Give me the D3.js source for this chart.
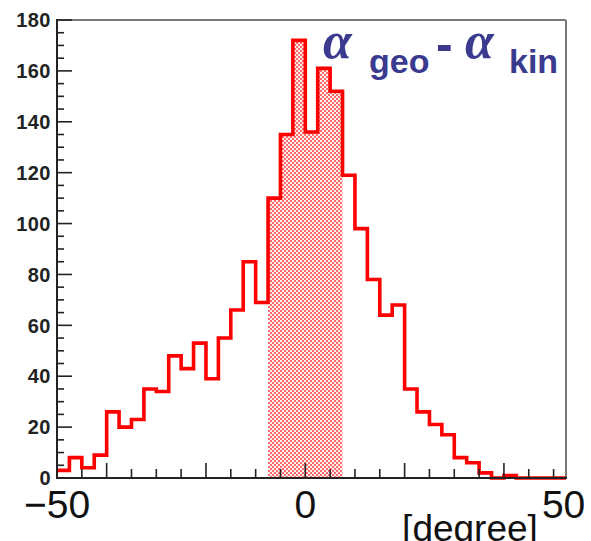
<!DOCTYPE html>
<html>
<head>
<meta charset="utf-8">
<script src="https://cdn.jsdelivr.net/npm/d3@7"></script>
<style>
  html, body { margin: 0; padding: 0; background: #fff; }
  svg { display: block; }
</style>
</head>
<body>
<svg id="chart" width="591" height="541"></svg>
<script>
// Histogram of alpha_geo - alpha_kin, 2.5 degree bins from -50 to 52.5
const binStart = -50;
const binWidth = 2.5;
const counts = [
  3, 8, 4, 9, 26, 20, 23, 35, 34, 48,
  43, 53, 39, 55, 66, 85, 69, 110, 135, 172,
  136, 161, 152, 119, 98, 78, 64, 68, 35, 26,
  21, 17, 8, 6, 2, 0, 1, 0, 0, 0, 0
];
// Selected window, drawn with a hatched fill
const selectedRange = [-7.5, 7.5];

const xTickLabels = [-50, 0, 50];
const xMinorTicks = [-45, -40, -35, -30, -25, -20, -15, -10, -5, 0, 5, 10, 15, 20, 25, 30, 35, 40, 45, 50];
const xMajorTicks = [-40, -20, 0, 20, 40];
const yTickLabels = [0, 20, 40, 60, 80, 100, 120, 140, 160, 180];
const yMinorTicks = d3.range(0, 181, 5);

(function () {
const svg = d3.select("#chart");
const mLeft = 57, mRight = 566, mTop = 20, mBottom = 478;

const x = d3.scaleLinear().domain([-50, 52.5]).range([mLeft, mRight]);
const y = d3.scaleLinear().domain([0, 180]).range([mBottom, mTop]);

const bins = counts.map((c, i) => ({ x0: binStart + i * binWidth, v: c }));
const xEnd = binStart + counts.length * binWidth;

// Hatch pattern for the selected bins
const defs = svg.append("defs");
const pat = defs.append("pattern")
  .attr("id", "hatch")
  .attr("patternUnits", "userSpaceOnUse")
  .attr("width", 4).attr("height", 4);
pat.append("rect").attr("width", 4).attr("height", 4).attr("fill", "#ff6a6a");
pat.append("rect").attr("x", 0).attr("y", 0).attr("width", 2).attr("height", 2).attr("fill", "#ffffff").attr("opacity", 0.9);
pat.append("rect").attr("x", 2).attr("y", 2).attr("width", 2).attr("height", 2).attr("fill", "#ffffff").attr("opacity", 0.9);

const sel = bins.filter(b => b.x0 >= selectedRange[0] && b.x0 < selectedRange[1]);
const selPts = sel.map(b => [b.x0, b.v]).concat([[selectedRange[1], sel[sel.length - 1].v]]);
const area = d3.area()
  .curve(d3.curveStepAfter)
  .x(d => x(d[0]))
  .y0(y(0))
  .y1(d => y(d[1]));
svg.append("path").datum(selPts).attr("d", area).attr("fill", "url(#hatch)");

// Frame
svg.append("line").attr("x1", mLeft).attr("x2", mRight).attr("y1", mTop).attr("y2", mTop)
  .attr("stroke", "#7a7a7a").attr("stroke-width", 2);
svg.append("line").attr("x1", mRight).attr("x2", mRight).attr("y1", mTop).attr("y2", mBottom)
  .attr("stroke", "#7a7a7a").attr("stroke-width", 2);

// Histogram outline
const pts = bins.map(b => [b.x0, b.v]).concat([[xEnd, counts[counts.length - 1]]]);
const line = d3.line().curve(d3.curveStepAfter).x(d => x(d[0])).y(d => y(d[1]));
svg.append("path").datum(pts).attr("d", line)
  .attr("fill", "none").attr("stroke", "#ff0000").attr("stroke-width", 3.6)
  .attr("stroke-linejoin", "miter");

// Y axis
const yAxisG = svg.append("g");
yAxisG.selectAll("line").data(yMinorTicks).join("line")
  .attr("x1", mLeft).attr("x2", d => mLeft + (d % 20 === 0 ? 15 : 7))
  .attr("y1", d => y(d)).attr("y2", d => y(d))
  .attr("stroke", "#222").attr("stroke-width", 1.6);
yAxisG.append("line").attr("x1", mLeft).attr("x2", mLeft).attr("y1", mTop - 1).attr("y2", mBottom + 1)
  .attr("stroke", "#222").attr("stroke-width", 2);
yAxisG.selectAll("text").data(yTickLabels).join("text")
  .attr("x", 51).attr("y", d => y(d)).attr("dy", "0.36em")
  .attr("text-anchor", "end")
  .attr("font-family", "Liberation Sans, Arial, sans-serif")
  .attr("font-weight", "bold").attr("font-size", 20)
  .attr("letter-spacing", "0.5")
  .attr("fill", "#222")
  .text(d => d);

// X axis
const xAxisG = svg.append("g");
xAxisG.selectAll("line").data(xMinorTicks).join("line")
  .attr("x1", d => x(d)).attr("x2", d => x(d))
  .attr("y1", mBottom).attr("y2", d => mBottom - (xMajorTicks.includes(d) ? 15 : 9))
  .attr("stroke", "#222").attr("stroke-width", 1.6);
xAxisG.append("line").attr("x1", mLeft - 1).attr("x2", mRight + 1).attr("y1", mBottom).attr("y2", mBottom)
  .attr("stroke", "#222").attr("stroke-width", 2);
xAxisG.selectAll("text").data(xTickLabels).join("text")
  .attr("x", d => x(d)).attr("y", 518)
  .attr("dx", d => d === 50 ? 10 : 0)
  .attr("text-anchor", "middle")
  .attr("font-family", "Liberation Sans, Arial, sans-serif")
  .attr("font-size", 39)
  .attr("fill", "#111")
  .text(d => d < 0 ? "\u2212" + Math.abs(d) : d);

// Axis unit
svg.append("text")
  .attr("x", 470).attr("y", 541)
  .attr("text-anchor", "middle")
  .attr("font-family", "Liberation Sans, Arial, sans-serif")
  .attr("font-size", 37)
  .attr("fill", "#111")
  .text("[degree]");

// Title: alpha_geo - alpha_kin
const titleColor = "#3a3a8f";
const title = svg.append("g").attr("fill", titleColor);
title.append("text").attr("x", 323).attr("y", 58)
  .attr("font-family", "Liberation Serif, Times New Roman, serif")
  .attr("font-style", "italic").attr("font-weight", "bold").attr("font-size", 52)
  .text("\u03b1");
title.append("text").attr("x", 369).attr("y", 73)
  .attr("font-family", "Liberation Sans, Arial, sans-serif")
  .attr("font-weight", "bold").attr("font-size", 34)
  .text("geo");
title.append("text").attr("x", 436).attr("y", 61)
  .attr("font-family", "Liberation Sans, Arial, sans-serif")
  .attr("font-weight", "bold").attr("font-size", 50)
  .text("-");
title.append("text").attr("x", 465).attr("y", 58)
  .attr("font-family", "Liberation Serif, Times New Roman, serif")
  .attr("font-style", "italic").attr("font-weight", "bold").attr("font-size", 52)
  .text("\u03b1");
title.append("text").attr("x", 509).attr("y", 73)
  .attr("font-family", "Liberation Sans, Arial, sans-serif")
  .attr("font-weight", "bold").attr("font-size", 34)
  .text("kin");
})();
</script>
</body>
</html>
